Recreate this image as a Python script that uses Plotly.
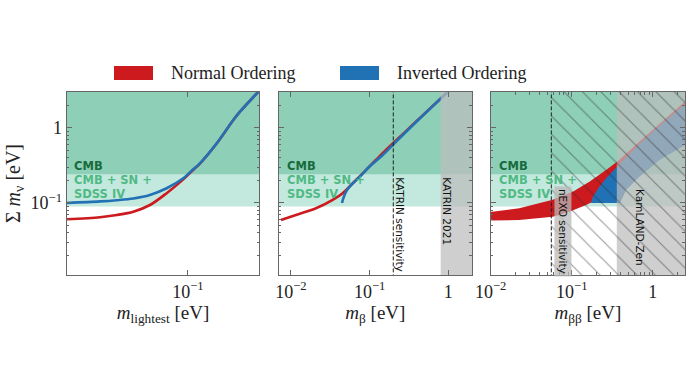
import math
import plotly.graph_objects as go

# panel 1: sum of masses vs lightest mass
m_lightest = [0.00178, 0.00538, 0.00938, 0.0163, 0.0283, 0.0493, 0.0857, 0.119, 0.149, 0.260, 0.452, 0.564, 1.03]
sum_no = [0.0607, 0.0645, 0.0692, 0.0766, 0.094, 0.135, 0.206, 0.275, 0.335, 0.62, 1.27, 1.64, 3.0]
sum_io = [0.100, 0.105, 0.109, 0.115, 0.128, 0.157, 0.213, 0.281, 0.337, 0.622, 1.27, 1.64, 3.0]

# panel 2: sum vs m_beta
mbeta_no = [0.00748, 0.0116, 0.0208, 0.0340, 0.0455, 0.0610, 0.0817, 0.120, 0.178, 0.43, 0.98]
sum_no_b = [0.0593, 0.0692, 0.0849, 0.110, 0.135, 0.183, 0.248, 0.373, 0.561, 1.33, 3.0]
mbeta_io = [0.0446, 0.0463, 0.0501, 0.0581, 0.074, 0.099, 0.147, 0.216, 0.436, 0.98]
sum_io_b = [0.100, 0.115, 0.141, 0.173, 0.220, 0.304, 0.435, 0.653, 1.34, 3.0]

# panel 3: sum vs m_betabeta (band edges)
mbb_no_upper = [0.005, 0.009, 0.0225, 0.0583, 0.103, 0.165, 0.265, 0.363, 0.698, 2.51, 3.5]
sum_no_upper = [0.075, 0.075, 0.0849, 0.110, 0.141, 0.192, 0.275, 0.354, 0.668, 2.23, 3.1]
mbb_no_lower = [3.5, 2.0, 1.0, 0.5, 0.363, 0.224, 0.182, 0.150, 0.0935, 0.0583, 0.0225, 0.009, 0.005]
sum_no_lower = [1.6, 1.0, 0.5, 0.25, 0.17, 0.115, 0.104, 0.094, 0.0766, 0.0656, 0.0593, 0.0580, 0.0578]
mbb_io_upper = [0.173, 0.182, 0.219, 0.265, 0.363, 0.635, 1.12, 1.98, 2.51, 3.5]
sum_io_upper = [0.1, 0.121, 0.165, 0.213, 0.304, 0.561, 0.986, 1.64, 2.01, 2.8]
mbb_io_lower = [3.5, 2.51, 1.21, 0.684, 0.469, 0.395, 0.173]
sum_io_lower = [0.85, 0.591, 0.373, 0.224, 0.149, 0.1, 0.1]

# limits
cmb = 0.24
cmb_sn_sdss = 0.09
katrin_sens = 0.2
katrin_2021 = 0.8
nexo_sens = 0.056
kamland_zen = 0.36

RED = "#cc1a1f"
BLUE = "#2171b5"
DARK_G = "rgb(142,207,183)"
LIGHT_G = "rgb(195,232,221)"
GREY = "rgba(188,188,188,0.72)"
LO, HI = 1e-4, 1e2
SERIF = "Liberation Serif"
SANS = "DejaVu Sans"

fig = go.Figure()


def rect(ax, x0, x1, y0, y1, **kw):
    fig.add_trace(go.Scatter(x=[x0, x1, x1, x0, x0], y=[y0, y0, y1, y1, y0], mode="lines",
                             fill="toself", line=dict(width=0), hoverinfo="skip",
                             showlegend=False, xaxis="x" + ax, yaxis="y" + ax, **kw))


def cmb_bands(ax):
    rect(ax, LO, HI, cmb_sn_sdss, cmb, fillcolor=LIGHT_G)
    rect(ax, LO, HI, cmb, HI, fillcolor=DARK_G)


def curve(ax, x, y, color):
    fig.add_trace(go.Scatter(x=x, y=y, mode="lines",
                             line=dict(color=color, width=2.6, shape="spline", smoothing=0.9),
                             showlegend=False, xaxis="x" + ax, yaxis="y" + ax))


def vline(ax, v):
    fig.add_trace(go.Scatter(x=[v, v], y=[LO, HI], mode="lines",
                             line=dict(color="#222", width=1, dash="4px,2px"),
                             showlegend=False, xaxis="x" + ax, yaxis="y" + ax))


# panel 1
cmb_bands("")
curve("", m_lightest, sum_no, RED)
curve("", m_lightest, sum_io, BLUE)

# panel 2
cmb_bands("2")
curve("2", mbeta_no, sum_no_b, RED)
curve("2", mbeta_io, sum_io_b, BLUE)
rect("2", katrin_2021, HI, LO, HI, fillcolor=GREY)
vline("2", katrin_sens)

# panel 3
cmb_bands("3")
fig.add_trace(go.Scatter(x=mbb_no_upper + mbb_no_lower, y=sum_no_upper + sum_no_lower, mode="lines",
                         fill="toself", fillcolor=RED, line=dict(width=0), showlegend=False,
                         xaxis="x3", yaxis="y3"))
fig.add_trace(go.Scatter(x=mbb_io_upper + mbb_io_lower, y=sum_io_upper + sum_io_lower, mode="lines",
                         fill="toself", fillcolor=BLUE, line=dict(width=0), showlegend=False,
                         xaxis="x3", yaxis="y3"))
rect("3", kamland_zen, HI, LO, HI, fillcolor=GREY)
rect("3", nexo_sens, HI, LO, HI, fillcolor="rgba(0,0,0,0)",
     fillpattern=dict(shape="\\", size=13, solidity=0.09, fgcolor="rgba(40,40,40,0.9)",
                      bgcolor="rgba(0,0,0,0)"))
vline("3", nexo_sens)


def decade_minors(lo, hi):
    return [k * 10 ** e for e in range(lo, hi) for k in range(2, 10)]


sup = lambda e: "10<sup>\u2212%d</sup>" % e
frame = dict(type="log", showline=True, linecolor="#666", linewidth=1.2, mirror="ticks",
             ticks="inside", ticklen=5, tickcolor="#666", showgrid=False, zeroline=False,
             automargin=False, tickfont=dict(family=SERIF, size=18, color="#222"))
ymin, ymax = math.log10(0.011), math.log10(3)
y_dom = [1 - 275 / 390, 1 - 92 / 390]
y_minor = dict(ticks="inside", ticklen=2.5, tickcolor="#666", tickmode="array",
               tickvals=decade_minors(-2, 1))
x_title = dict(family=SERIF, size=19, color="#222")

layout = dict(
    width=694, height=390, paper_bgcolor="white", plot_bgcolor="white",
    margin=dict(l=0, r=0, t=0, b=0, autoexpand=False), showlegend=False,
    xaxis=dict(frame, domain=[66.7 / 694, 259.3 / 694], range=[-2.75, 0.03], anchor="y",
               tickmode="array", tickvals=[0.1], ticktext=[sup(1)],
               title=dict(text="<i>m</i><sub>lightest</sub> [eV]", font=x_title, standoff=2)),
    yaxis=dict(frame, domain=y_dom, range=[ymin, ymax], anchor="x",
               tickmode="array", tickvals=[0.1, 1], ticktext=[sup(1), "1"], minor=y_minor,
               title=dict(text="\u03a3 <i>m</i><sub>\u03bd</sub> [eV]",
                          font=dict(family=SERIF, size=20, color="#222"), standoff=4)),
    xaxis2=dict(frame, domain=[278.7 / 694, 472 / 694], range=[math.log10(0.007), math.log10(2)], anchor="y2",
                tickmode="array", tickvals=[0.01, 0.1, 1], ticktext=[sup(2), sup(1), "1"],
                title=dict(text="<i>m</i><sub>\u03b2</sub> [eV]", font=x_title, standoff=2)),
    yaxis2=dict(frame, domain=y_dom, range=[ymin, ymax], anchor="x2", tickmode="array",
                tickvals=[0.1, 1], showticklabels=False, minor=y_minor),
    xaxis3=dict(frame, domain=[490.7 / 694, 685 / 694], range=[-2, math.log10(2.5)], anchor="y3",
                tickmode="array", tickvals=[0.01, 0.1, 1], ticktext=[sup(2), sup(1), "1"],
                minor=dict(ticks="inside", ticklen=2.5, tickcolor="#666", tickmode="array",
                           tickvals=decade_minors(-2, 1)),
                title=dict(text="<i>m</i><sub>\u03b2\u03b2</sub> [eV]", font=x_title, standoff=2)),
    yaxis3=dict(frame, domain=y_dom, range=[ymin, ymax], anchor="x3", tickmode="array",
                tickvals=[0.1, 1], showticklabels=False, minor=y_minor),
)
fig.update_layout(layout)

# band labels
for ax, fx in (("", 0.034), ("2", 0.04), ("3", 0.04)):
    for fy, text, color in ((0.596, "CMB", "#176b3c"), (0.52, "CMB + SN +", "#4fba84"),
                            (0.444, "SDSS IV", "#4fba84")):
        fig.add_annotation(xref="x%s domain" % ax, yref="y%s domain" % ax, x=fx, y=fy,
                           text="<b>%s</b>" % text, showarrow=False, xanchor="left",
                           yanchor="middle", borderpad=0,
                           font=dict(family=SANS, size=11.5, color=color))

rot = dict(showarrow=False, textangle=90, xanchor="center", yanchor="middle",
           font=dict(family=SANS, size=10.5, color="#111"))
fig.add_annotation(xref="x2 domain", yref="y2 domain", x=0.624, y=0.276, text="KATRIN sensitivity", **rot)
fig.add_annotation(xref="x2 domain", yref="y2 domain", x=0.869, y=0.35, text="KATRIN 2021", **rot)
fig.add_annotation(xref="x3 domain", yref="y3 domain", x=0.3695, y=0.238, text="nEXO sensitivity",
                   bgcolor="rgba(185,185,185,0.75)", borderpad=2, **rot)
fig.add_annotation(xref="x3 domain", yref="y3 domain", x=0.768, y=0.257, text="KamLAND-Zen", **rot)

# legend
for x0, color, label in ((114, RED, "Normal Ordering"), (340, BLUE, "Inverted Ordering")):
    fig.add_shape(type="rect", xref="paper", yref="paper", x0=x0 / 694, x1=(x0 + 39) / 694,
                  y0=1 - 80 / 390, y1=1 - 66 / 390, fillcolor=color, line=dict(width=0))
    fig.add_annotation(xref="paper", yref="paper", x=(x0 + 55) / 694, y=1 - 73 / 390, text=label,
                       showarrow=False, xanchor="left", yanchor="middle",
                       font=dict(family=SERIF, size=18, color="#222"))

fig.write_html("out.html", config={"displayModeBar": False},
               post_script="document.body.style.margin='0';")
